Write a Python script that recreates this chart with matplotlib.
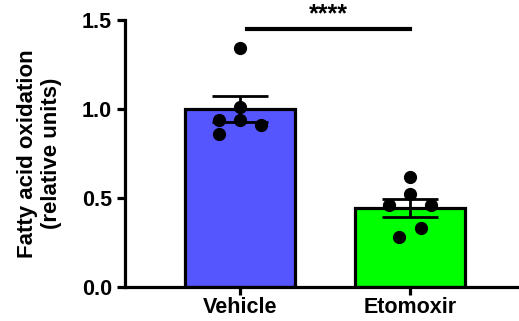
import matplotlib.pyplot as plt
import numpy as np

plt.rcParams['font.family'] = ['Liberation Sans', 'DejaVu Sans']
plt.rcParams['font.weight'] = 'bold'

groups = ["Vehicle", "Etomoxir"]
bar_colors = ["#5656FF", "#00FF00"]

vehicle = [1.34, 1.01, 0.94, 0.94, 0.91, 0.86]
etomoxir = [0.62, 0.52, 0.46, 0.46, 0.33, 0.28]

# horizontal scatter of the dots within each bar
vehicle_jitter = [0.0, 0.0, -0.125, 0.0, 0.125, -0.125]
etomoxir_jitter = [0.0, 0.0, -0.125, 0.125, 0.065, -0.065]

data = [vehicle, etomoxir]
jitter = [vehicle_jitter, etomoxir_jitter]
means = [np.mean(d) for d in data]
sems = [np.std(d, ddof=1) / np.sqrt(len(d)) for d in data]

fig = plt.figure(figsize=(5.19, 3.21), dpi=100)
ax = fig.add_axes([125 / 519, 34 / 321, 1 - 125 / 519, 267 / 321])

x = np.arange(len(groups))
ax.bar(x, means, width=0.65, color=bar_colors, edgecolor="black", linewidth=2.3, zorder=1)
ax.errorbar(x, means, yerr=sems, fmt="none", ecolor="black", elinewidth=2,
            capsize=20, capthick=2, zorder=2)
for i, d in enumerate(data):
    ax.plot(x[i] + np.array(jitter[i]), d, "o", color="black", markersize=8.5, zorder=3)

# significance bracket
ax.plot([0.04, 1.0], [1.45, 1.45], color="black", linewidth=3, clip_on=False)
ax.text(0.52, 1.465, "****", ha="center", va="bottom", fontsize=18, fontweight="bold")

ax.set_xlim(-0.676, 1.64)
ax.set_ylim(0, 1.5)
ax.set_yticks([0.0, 0.5, 1.0, 1.5])
ax.set_yticklabels(["0.0", "0.5", "1.0", "1.5"])
ax.set_xticks(x)
ax.set_xticklabels(groups)
ax.set_ylabel("Fatty acid oxidation\n(relative units)", fontsize=16, fontweight="bold", labelpad=14)

for side in ["top", "right"]:
    ax.spines[side].set_visible(False)
for side in ["left", "bottom"]:
    ax.spines[side].set_linewidth(2.3)
ax.tick_params(axis="both", width=2.3, length=6, labelsize=15.5)
ax.tick_params(axis="x", pad=1.5)

fig.savefig("out.png", dpi=100)
